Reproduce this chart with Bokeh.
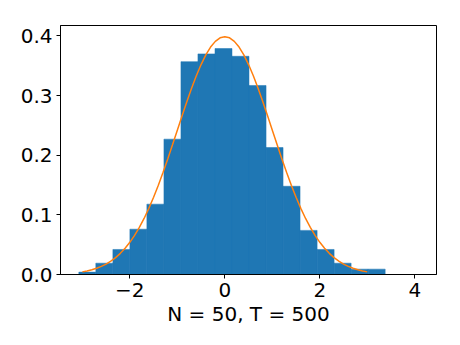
from bokeh.plotting import figure
from bokeh.models import FixedTicker, Range1d
from bokeh.embed import file_html
from bokeh.resources import INLINE

# Histogram bins (density)
bin_edges = [-3.074, -2.716, -2.357, -1.999, -1.641, -1.282, -0.924, -0.566, -0.207,
             0.151, 0.509, 0.868, 1.226, 1.584, 1.943, 2.301, 2.659, 3.018, 3.376]
densities = [0.004, 0.019, 0.042, 0.076, 0.118, 0.227, 0.357, 0.370, 0.379, 0.366,
             0.317, 0.213, 0.148, 0.074, 0.042, 0.019, 0.009, 0.009]

# Theoretical density curve, read at steps of 0.1 from -3 to 3
curve_x = [round(-3.0 + 0.1 * i, 1) for i in range(61)]
curve_y = [0.0044, 0.0060, 0.0079, 0.0104, 0.0136, 0.0175, 0.0224, 0.0283, 0.0355, 0.0440,
           0.0540, 0.0656, 0.0790, 0.0940, 0.1109, 0.1295, 0.1497, 0.1714, 0.1942, 0.2179,
           0.2420, 0.2661, 0.2897, 0.3123, 0.3332, 0.3521, 0.3683, 0.3814, 0.3910, 0.3970,
           0.3989,
           0.3970, 0.3910, 0.3814, 0.3683, 0.3521, 0.3332, 0.3123, 0.2897, 0.2661, 0.2420,
           0.2179, 0.1942, 0.1714, 0.1497, 0.1295, 0.1109, 0.0940, 0.0790, 0.0656, 0.0540,
           0.0440, 0.0355, 0.0283, 0.0224, 0.0175, 0.0136, 0.0104, 0.0079, 0.0060, 0.0044]

x_ticks = [-2, 0, 2, 4]
x_tick_labels = {-2: "\u22122", 0: "0", 2: "2", 4: "4"}
y_ticks = [0.0, 0.1, 0.2, 0.3, 0.4]
y_tick_labels = {0.0: "0.0", 0.1: "0.1", 0.2: "0.2", 0.3: "0.3", 0.4: "0.4"}
x_label = "N = 50, T = 500"

p = figure(width=444, height=329, output_backend="svg", toolbar_location=None,
           x_range=Range1d(-3.46, 4.457), y_range=Range1d(0, 0.4176),
           min_border_left=60, min_border_right=8, min_border_top=25, min_border_bottom=55)

p.quad(left=bin_edges[:-1], right=bin_edges[1:], bottom=0, top=densities,
       fill_color="#1f77b4", line_color="#1f77b4", line_width=0.5)
p.line(curve_x, curve_y, line_color="#ff7f0e", line_width=1.5)

p.grid.visible = False
p.outline_line_color = "black"
p.outline_line_width = 1
p.background_fill_color = "white"
p.border_fill_color = "white"

for ax in (p.xaxis[0], p.yaxis[0]):
    ax.axis_line_color = "black"
    ax.major_tick_line_color = "black"
    ax.major_tick_out = 4
    ax.major_tick_in = 0
    ax.minor_tick_line_color = None
    ax.major_label_text_font = "DejaVu Sans"
    ax.major_label_text_font_size = "20px"
    ax.major_label_text_color = "black"
    ax.major_label_standoff = 4

p.xaxis.ticker = FixedTicker(ticks=x_ticks)
p.xaxis.major_label_overrides = x_tick_labels
p.yaxis.ticker = FixedTicker(ticks=y_ticks)
p.yaxis.major_label_overrides = y_tick_labels

p.xaxis.axis_label = x_label
p.xaxis.axis_label_text_font = "DejaVu Sans"
p.xaxis.axis_label_text_font_size = "20px"
p.xaxis.axis_label_text_font_style = "normal"
p.xaxis.axis_label_text_color = "black"
p.xaxis.axis_label_standoff = 2

open("out.html", "w").write(file_html(p, INLINE))
